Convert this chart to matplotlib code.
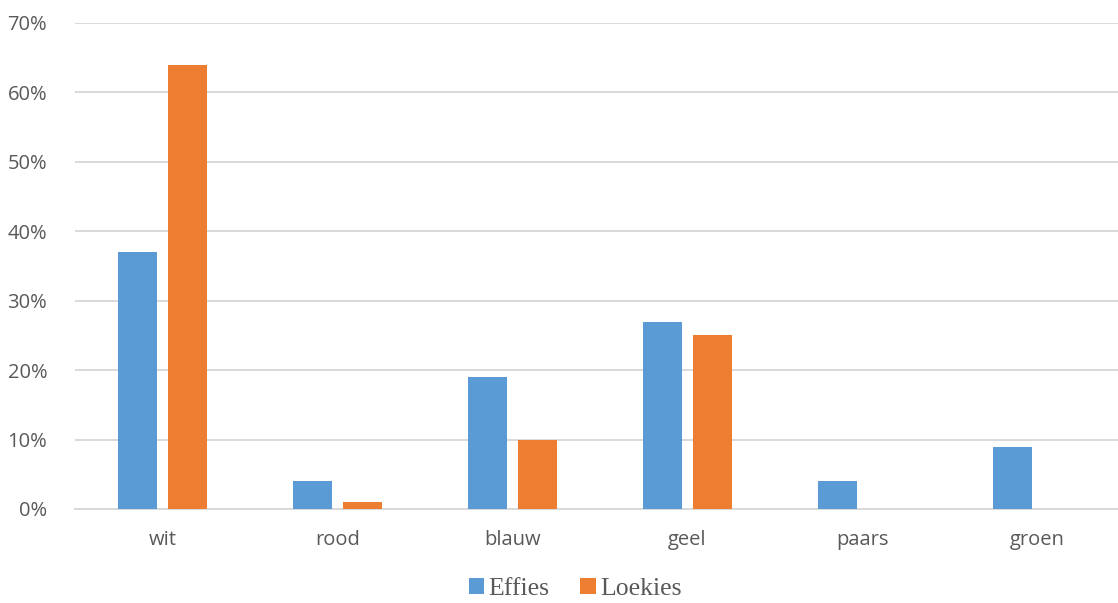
import numpy as np
import matplotlib.pyplot as plt
from matplotlib.ticker import FuncFormatter

# kleuren per categorie, aandeel in procent
kleuren = ['wit', 'rood', 'blauw', 'geel', 'paars', 'groen']
effies = [37, 4, 19, 27, 4, 9]
loekies = [64, 1, 10, 25, 0, 0]

blauw = '#5b9bd5'
oranje = '#ed7d31'
tekst = '#595959'

fig = plt.figure(figsize=(11.18, 6.03), dpi=100)
ax = fig.add_axes([75 / 1118, 94 / 603, 1043 / 1118, 486 / 603])

x = np.arange(len(kleuren))
w = 0.223
ax.bar(x - 0.143, effies, width=w, color=blauw, label='Effies', zorder=3)
ax.bar(x + 0.143, loekies, width=w, color=oranje, label='Loekies', zorder=3)

ax.set_xlim(-0.5, 5.46)
ax.set_ylim(0, 70)
ax.set_yticks(range(0, 71, 10))
ax.yaxis.set_major_formatter(FuncFormatter(lambda v, p: '{:.0f}%'.format(v)))
ax.grid(axis='y', color='#d9d9d9', linewidth=1.4, zorder=0)
ax.set_xticks(x)
ax.set_xticklabels(kleuren)
for s in ['top', 'right', 'left']:
    ax.spines[s].set_visible(False)
ax.spines['bottom'].set_color('#d9d9d9')
ax.spines['bottom'].set_linewidth(1.4)
ax.tick_params(axis='both', length=0, labelsize=14.5, labelcolor=tekst,
               labelfontfamily='Open Sans')
ax.tick_params(axis='x', pad=15)
ax.tick_params(axis='y', pad=20)

leg = fig.legend(loc='center', bbox_to_anchor=(575 / 1118, 1 - 589 / 603),
                 ncol=2, frameon=False, handlelength=0.62, handleheight=0.62,
                 handletextpad=0.15, columnspacing=1.2,
                 prop={'family': 'Liberation Serif', 'size': 18.5})
for t in leg.get_texts():
    t.set_color(tekst)

fig.savefig('out.png', dpi=100)
